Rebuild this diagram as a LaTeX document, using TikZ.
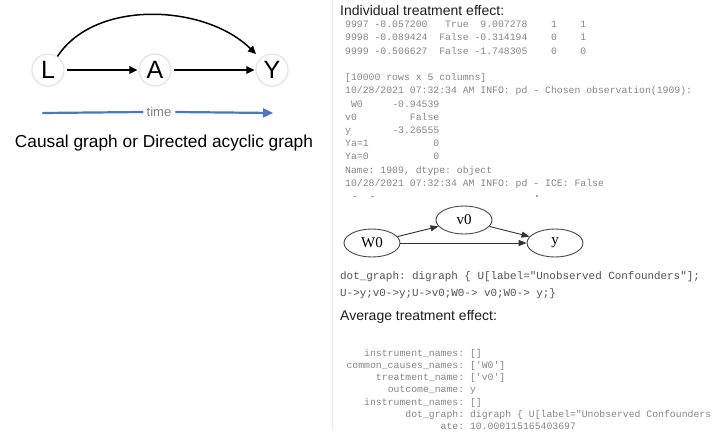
\documentclass[tikz,border=0pt]{standalone}
\usepackage{fontspec}
\setmainfont{Liberation Sans}
\newfontfamily\monof{Liberation Mono}[Ligatures=TeXOff]
\newfontfamily\gvfont{Liberation Serif}
\usetikzlibrary{arrows.meta,shapes.geometric}
\definecolor{timeblue}{RGB}{72,118,200}
\definecolor{sepgray}{RGB}{232,232,232}
\begin{document}
\begin{tikzpicture}[x=1pt,y=-1pt,
  dagnode/.style={circle, draw=black!10, line width=1.2pt, fill=white, minimum size=32pt, inner sep=0pt, font=\fontsize{25}{25}\selectfont},
  dagarrow/.style={line width=1.5pt, -{Triangle[length=8pt,width=7.5pt]}},
  timeline/.style={line width=2.2pt, draw=timeblue},
  captionstyle/.style={font=\fontsize{17.3}{17.3}\selectfont, inner sep=0pt},
  heading/.style={font=\fontsize{14}{14}\selectfont, text=black!88, inner sep=0pt, anchor=base west},
  monorow/.style={font=\monof\fontsize{9.8}{9.8}\selectfont, text=black!47, inner sep=0pt, anchor=base west},
  dotrow/.style={font=\monof\fontsize{10.9}{10.9}\selectfont, text=black!68, inner sep=0pt, anchor=base west},
  gvnode/.style={ellipse, draw=black!72, line width=0.9pt, minimum width=56pt, minimum height=28pt, inner sep=0pt, font=\gvfont\fontsize{15}{15}\selectfont},
  gvarrow/.style={draw=black!80, line width=0.9pt, -{Triangle[length=8pt,width=6pt]}}
]
\useasboundingbox (0,0) rectangle (712,436);
\fill[white] (0,0) rectangle (712,436);

% ---------- left panel ----------
\node[dagnode] (L) at (48,70) {L};
\node[dagnode] (A) at (155,70) {A};
\node[dagnode] (Y) at (272,70) {Y};
\draw[dagarrow, shorten <=2pt, shorten >=1pt] (L) -- (A);
\draw[dagarrow, shorten <=2pt, shorten >=1pt] (A) -- (Y);
\draw[dagarrow, shorten >=6pt] (L.55) .. controls (95,-1) and (205,4) .. (Y.135);

\coordinate (tl) at (43,113);
\coordinate (tr) at (273,113);
\node[font=\fontsize{13}{13}\selectfont, text=black!50, inner sep=4pt] (tt) at (159,112) {time};
\draw[timeline, line cap=round] (tl) -- (tt.west);
\draw[timeline, -{Triangle[length=10pt,width=9pt]}] (tt.east) -- (tr);

\node[captionstyle] (cap) at (164,143) {Causal graph or Directed acyclic graph};

% separator
\draw[sepgray, line width=1pt] (332,0) -- (332,430);

% ---------- right panel ----------
\node[heading] (h1) at (340,16) {Individual treatment effect:};

\begin{scope}
\clip (340,21) rectangle (712,60);
\node[monorow] (r1) at (345,27.8) {9997~-0.057200~~~True~~9.007278~~~~1~~~~1};
\end{scope}
\node[monorow] (r2) at (345,41.0) {9998~-0.089424~~False~-0.314194~~~~0~~~~1};
\node[monorow] (r3) at (345,54.2) {9999~-0.506627~~False~-1.748305~~~~0~~~~0};
\node[monorow] (r4) at (345,80.6) {[10000~rows~x~5~columns]};
\node[monorow] (r5) at (345,93.8) {10/28/2021~07:32:34~AM~INFO:~pd~-~Chosen~observation(1909):};
\node[monorow] (r6) at (345,107.0) {~W0~~~~~-0.94539};
\node[monorow] (r7) at (345,120.2) {v0~~~~~~~~~False};
\node[monorow] (r8) at (345,133.4) {y~~~~~~~-3.26555};
\node[monorow] (r9) at (345,146.6) {Ya=1~~~~~~~~~~~0};
\node[monorow] (r10) at (345,159.8) {Ya=0~~~~~~~~~~~0};
\node[monorow] (r11) at (345,173.0) {Name:~1909,~dtype:~object};
\node[monorow] (r12) at (345,186.2) {10/28/2021~07:32:34~AM~INFO:~pd~-~ICE:~False};
% faint remnants of a clipped line
\fill[black!35] (353,195.5) rectangle (356,196.5);
\fill[black!35] (371,195.5) rectangle (374,196.5);
\fill[black!35] (536,195) rectangle (538,197);

% graphviz graph
\node[gvnode] (W0) at (372,243) {W0};
\node[gvnode] (v0) at (464,220) {v0};
\node[gvnode] (yy) at (555,243) {y};
\draw[gvarrow] (W0) -- (v0);
\draw[gvarrow] (v0) -- (yy);
\draw[gvarrow] (W0.east) -- (yy.west);

\node[dotrow] (d1) at (340,279) {dot\_graph:~digraph~\{~U[label="Unobserved~Confounders"];};
\node[dotrow] (d2) at (340,296) {U->y;v0->y;U->v0;W0->~v0;W0->~y;\}};

\node[heading] (h2) at (340,320) {Average treatment effect:};

\node[monorow] (a1) at (340.5,356.3) {~~~~instrument\_names:~[]};
\node[monorow] (a2) at (340.5,368.5) {~common\_causes\_names:~['W0']};
\node[monorow] (a3) at (340.5,380.7) {~~~~~~treatment\_name:~['v0']};
\node[monorow] (a4) at (340.5,392.9) {~~~~~~~~outcome\_name:~y};
\node[monorow] (a5) at (340.5,405.1) {~~~~instrument\_names:~[]};
\node[monorow] (a6) at (340.5,417.3) {~~~~~~~~~~~dot\_graph:~digraph~\{~U[label="Unobserved~Confounders};
\node[monorow] (a7) at (340.5,429.5) {~~~~~~~~~~~~~~~~~ate:~10.000115165403697};
\end{tikzpicture}
\end{document}
